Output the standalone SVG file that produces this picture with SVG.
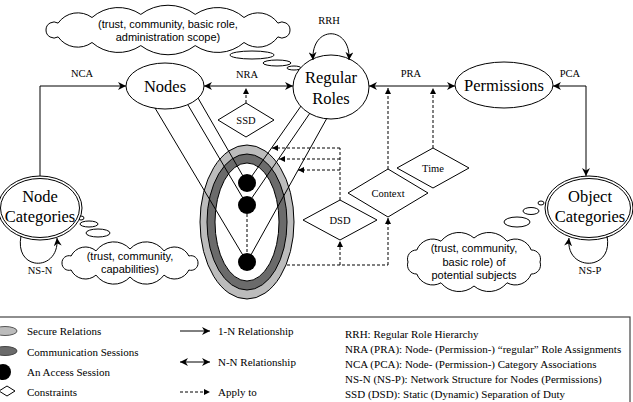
<svg xmlns="http://www.w3.org/2000/svg" width="633" height="402" viewBox="0 0 633 402">
<style>
.ser{font-family:"Liberation Serif","Times New Roman",serif;fill:#000}
.big{font-size:16.5px}
.sm{font-size:10.5px}
.leg{font-size:11px}
.san{font-family:"Liberation Sans",Arial,sans-serif;font-size:11px;fill:#000}
.shape{fill:#fff;stroke:#000;stroke-width:1}
.ln{fill:none;stroke:#000;stroke-width:1}
.ds{fill:none;stroke:#000;stroke-width:1;stroke-dasharray:3,2}
.mid{text-anchor:middle}
</style>
<defs>
<marker id="ah" viewBox="0 0 10 10" refX="10" refY="5" markerWidth="8" markerHeight="8" markerUnits="userSpaceOnUse" orient="auto-start-reverse"><path d="M0,0 L10,5 L0,10 L3,5 z" fill="#000"/></marker>
<marker id="as" viewBox="0 0 10 10" refX="10" refY="5" markerWidth="6" markerHeight="6" markerUnits="userSpaceOnUse" orient="auto-start-reverse"><path d="M0,0 L10,5 L0,10 z" fill="#000"/></marker>
</defs>

<!-- clouds -->
<g id="cloud-top">
<path class="shape" d="M46,30 A8,8 0 0 1 58.1,23.1 A24,24 0 0 1 92,17.5 A40,40 0 0 1 140.8,14.4 A45,45 0 0 1 195.2,14.4 A40,40 0 0 1 244,17.5 A24,24 0 0 1 277.9,23.1 A8,8 0 0 1 290,30 A8,8 0 0 1 277.9,36.9 A24,24 0 0 1 244,42.5 A40,40 0 0 1 195.2,45.6 A45,45 0 0 1 140.8,45.6 A40,40 0 0 1 92,42.5 A24,24 0 0 1 58.1,36.9 A8,8 0 0 1 46,30 Z"/>
<ellipse class="shape" cx="252" cy="55" rx="22" ry="4"/>
<ellipse class="shape" cx="277" cy="63" rx="14" ry="3"/>
<ellipse class="shape" cx="294" cy="68" rx="7" ry="2"/>
<text class="san mid" x="168" y="28">(trust, community, basic role,</text>
<text class="san mid" x="168" y="41">administration scope)</text>
</g>
<g id="cloud-nodecat">
<path class="shape" d="M62,263 A7,7 0 0 1 71.1,256 A16,16 0 0 1 96,250.9 A22,22 0 0 1 130,249 A22,22 0 0 1 164,250.9 A16,16 0 0 1 188.9,256 A7,7 0 0 1 198,263 A7,7 0 0 1 188.9,270 A16,16 0 0 1 164,275.1 A22,22 0 0 1 130,277 A22,22 0 0 1 96,275.1 A16,16 0 0 1 71.1,270 A7,7 0 0 1 62,263 Z"/>
<ellipse class="shape" cx="81" cy="218" rx="3" ry="2"/>
<ellipse class="shape" cx="89" cy="224" rx="9" ry="3"/>
<ellipse class="shape" cx="98" cy="233" rx="12" ry="4"/>
<text class="san mid" x="130" y="260">(trust, community,</text>
<text class="san mid" x="130" y="273">capabilities)</text>
</g>
<g id="cloud-objcat">
<path class="shape" d="M408,262 A9,9 0 0 1 416.8,250 A17,17 0 0 1 441,241.2 A23,23 0 0 1 474,238 A23,23 0 0 1 507,241.2 A17,17 0 0 1 531.2,250 A9,9 0 0 1 540,262 A9,9 0 0 1 531.2,274 A17,17 0 0 1 507,282.8 A23,23 0 0 1 474,286 A23,23 0 0 1 441,282.8 A17,17 0 0 1 416.8,274 A9,9 0 0 1 408,262 Z"/>
<ellipse class="shape" cx="541" cy="203" rx="3" ry="2"/>
<ellipse class="shape" cx="531" cy="211" rx="8" ry="3.5"/>
<ellipse class="shape" cx="517" cy="222" rx="13" ry="5"/>
<text class="san mid" x="474" y="252">(trust, community,</text>
<text class="san mid" x="474" y="265.5">basic role) of</text>
<text class="san mid" x="474" y="279">potential subjects</text>
</g>

<!-- session ellipses -->
<g id="sessions">
<ellipse cx="247" cy="222" rx="47" ry="77" fill="#bcbcbc" stroke="#000"/>
<ellipse cx="247" cy="222" rx="40" ry="68" fill="#6b6b6b" stroke="#000"/>
<ellipse cx="247" cy="222" rx="32" ry="59" fill="#fff" stroke="#000"/>
</g>

<!-- nodes -->
<g id="nodes">
<ellipse class="shape" cx="165" cy="86" rx="39" ry="23"/>
<text class="ser big mid" x="165" y="92">Nodes</text>
</g>
<g id="regular-roles">
<ellipse class="shape" cx="331" cy="87" rx="38" ry="32"/>
<text class="ser big mid" x="331" y="83">Regular</text>
<text class="ser big mid" x="331" y="104">Roles</text>
</g>
<g id="permissions">
<ellipse class="shape" cx="504" cy="85" rx="49" ry="23"/>
<text class="ser big mid" x="504" y="91">Permissions</text>
</g>
<g id="node-categories">
<ellipse class="shape" cx="40" cy="208" rx="42" ry="32"/>
<ellipse class="ln" cx="40" cy="208" rx="39.5" ry="29.5"/>
<text class="ser big mid" x="40" y="202">Node</text>
<text class="ser big mid" x="40" y="222">Categories</text>
</g>
<g id="object-categories">
<ellipse class="shape" cx="589" cy="208" rx="44" ry="32"/>
<ellipse class="ln" cx="589" cy="208" rx="41.5" ry="29.5"/>
<text class="ser big mid" x="590" y="202">Object</text>
<text class="ser big mid" x="590" y="222">Categories</text>
</g>
<g id="ssd">
<path class="shape" d="M218,120 L246,103 L274,120 L246,137 Z"/>
<text class="ser sm mid" x="246" y="124">SSD</text>
</g>
<g id="time">
<path class="shape" d="M397,168 L433,148 L469,168 L433,188 Z"/>
<text class="ser sm mid" x="433" y="172">Time</text>
</g>
<g id="context">
<path class="shape" d="M348,193 L388,169 L428,193 L388,217 Z"/>
<text class="ser sm mid" x="388" y="197">Context</text>
</g>
<g id="dsd">
<path class="shape" d="M303,220 L340,200 L377,220 L340,240 Z"/>
<text class="ser sm mid" x="340" y="224">DSD</text>
</g>

<!-- connectors -->
<g id="connectors">
<path class="ln" d="M40,176 V86 H126" marker-end="url(#ah)"/>
<path class="ln" d="M204,86 H293" marker-start="url(#ah)" marker-end="url(#ah)"/>
<path class="ln" d="M369,86 H455" marker-start="url(#ah)" marker-end="url(#ah)"/>
<path class="ln" d="M586,176 V86 H553" marker-start="url(#ah)" marker-end="url(#ah)"/>
<path class="ln" d="M313,60 C311,25 351,25 349,60" marker-start="url(#ah)" marker-end="url(#ah)"/>
<path class="ln" d="M21,236 C14,272 60,272 57,238" marker-end="url(#ah)"/>
<path class="ln" d="M607,236 C614,272 565,272 569,238" marker-end="url(#ah)"/>
<!-- session lines -->
<path class="ln" d="M155,108 L247,262"/>
<path class="ln" d="M198,98 L247,183"/>
<path class="ln" d="M188,105 L247,205"/>
<path class="ln" d="M327,118 L247,262"/>
<path class="ln" d="M301,106 L247,183"/>
<path class="ln" d="M310,113 L247,205"/>
<!-- apply-to -->
<path class="ds" d="M246,103 V88" marker-end="url(#as)"/>
<path class="ds" d="M433,148 V88" marker-end="url(#as)"/>
<path class="ds" d="M388,169 V88" marker-end="url(#as)"/>
<path class="ds" d="M340,200 V148"/>
<path class="ds" d="M340,148 H272" marker-end="url(#as)"/>
<path class="ds" d="M340,159 H279" marker-end="url(#as)"/>
<path class="ds" d="M340,170 H298" marker-end="url(#as)"/>
<path class="ds" d="M287,265 H388"/>
<path class="ds" d="M340,265 V241" marker-end="url(#as)"/>
<path class="ds" d="M388,265 V218" marker-end="url(#as)"/>
<path class="ds" d="M247,214 V253"/>
</g>

<g id="access-sessions">
<circle cx="247" cy="183" r="9" fill="#000"/>
<circle cx="247" cy="205" r="9" fill="#000"/>
<circle cx="247" cy="262" r="9" fill="#000"/>
</g>

<g id="labels">
<text class="ser sm mid" x="82" y="77">NCA</text>
<text class="ser sm mid" x="247" y="78">NRA</text>
<text class="ser sm mid" x="411" y="77">PRA</text>
<text class="ser sm mid" x="570" y="77">PCA</text>
<text class="ser sm mid" x="329" y="24">RRH</text>
<text class="ser sm mid" x="40" y="274">NS-N</text>
<text class="ser sm mid" x="590" y="274">NS-P</text>
</g>

<!-- legend -->
<g id="legend">
<rect x="-2" y="317" width="632" height="100" fill="none" stroke="#444" stroke-width="1.2"/>
<ellipse cx="5" cy="331" rx="12" ry="4.5" fill="#bcbcbc" stroke="#555"/>
<ellipse cx="5" cy="351" rx="12" ry="4.5" fill="#6b6b6b" stroke="#444"/>
<circle cx="3" cy="372" r="8" fill="#000"/>
<path class="shape" d="M-1,391 L7,386 L15,391 L7,396 Z"/>
<text class="ser leg" x="27" y="335">Secure Relations</text>
<text class="ser leg" x="27" y="356">Communication Sessions</text>
<text class="ser leg" x="27" y="376">An Access Session</text>
<text class="ser leg" x="27" y="396">Constraints</text>
<path class="ln" d="M180,331 H210" marker-end="url(#ah)"/>
<path class="ln" d="M180,362 H210" marker-start="url(#ah)" marker-end="url(#ah)"/>
<path class="ds" d="M180,392 H210" marker-end="url(#as)"/>
<text class="ser leg" x="218" y="335">1-N Relationship</text>
<text class="ser leg" x="218" y="366">N-N Relationship</text>
<text class="ser leg" x="218" y="396">Apply to</text>
<text class="ser leg" x="345" y="338">RRH: Regular Role Hierarchy</text>
<text class="ser leg" x="345" y="353">NRA (PRA): Node- (Permission-) “regular” Role Assignments</text>
<text class="ser leg" x="345" y="368">NCA (PCA): Node- (Permission-) Category Associations</text>
<text class="ser leg" x="345" y="383">NS-N (NS-P): Network Structure for Nodes (Permissions)</text>
<text class="ser leg" x="345" y="398">SSD (DSD): Static (Dynamic) Separation of Duty</text>
</g>
</svg>
